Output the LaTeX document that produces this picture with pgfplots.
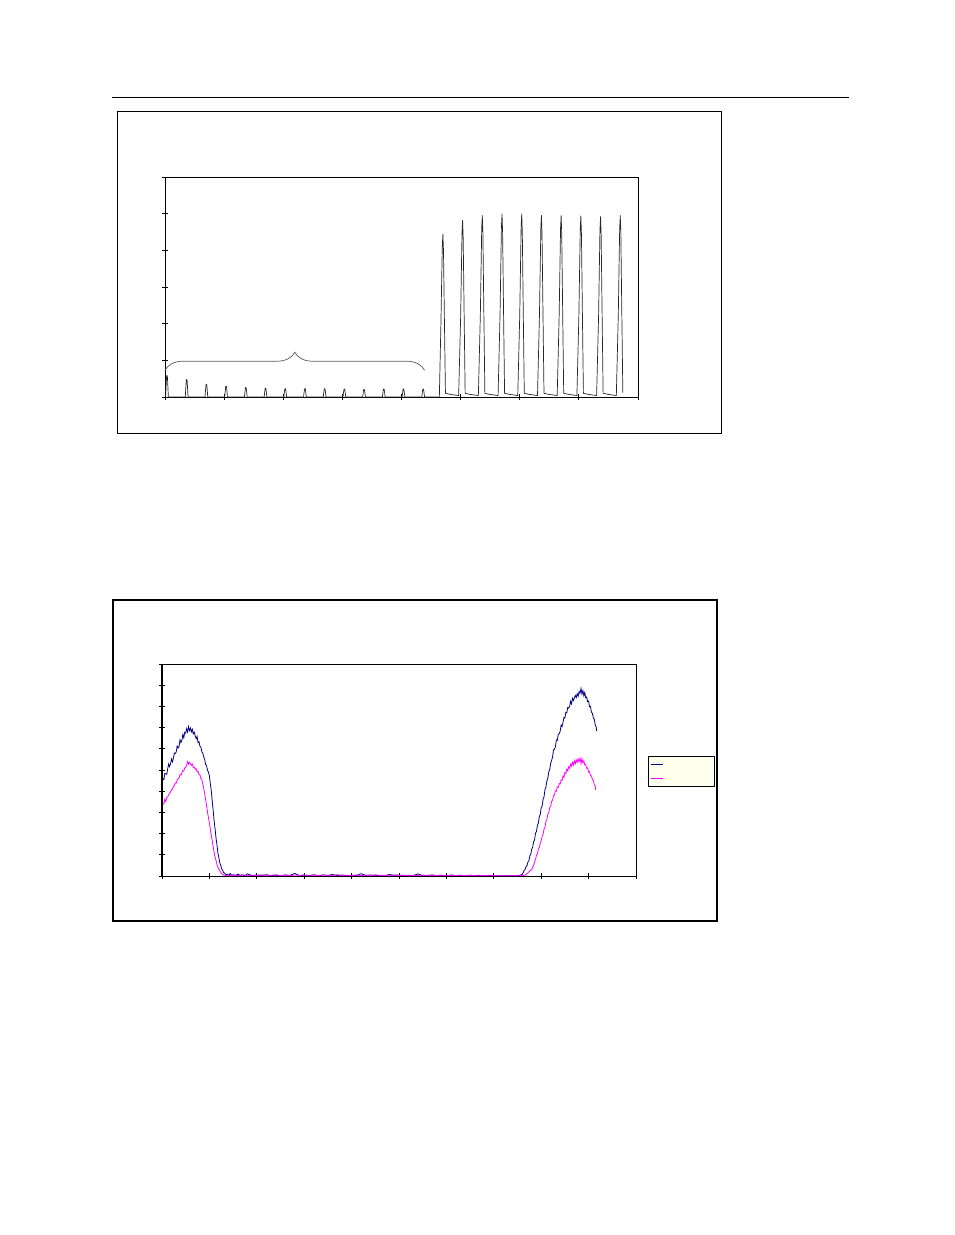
\documentclass[border=0pt]{standalone}
\usepackage{pgfplots}
\pgfplotsset{compat=1.18}
\usetikzlibrary{decorations.pathreplacing}
\definecolor{exnavy}{RGB}{0,0,128}
\definecolor{exmag}{RGB}{255,0,255}
\definecolor{legbg}{RGB}{255,255,238}

\pgfplotsset{
  plain/.style={
    scale only axis,
    anchor=south west,
    clip=false,
    xticklabels={}, yticklabels={},
    xtick pos=bottom, ytick pos=left,
    tick align=center,
    major tick length=6pt,
    axis line style={line width=0.8pt},
    tick style={black, line width=0.8pt},
  },
}

\begin{document}
\begin{tikzpicture}
\path[use as bounding box] (0,0) rectangle (954pt,-1235pt);
\draw[line width=0.9pt] (112pt,-97pt) -- (849pt,-97pt);
\draw[line width=0.9pt] (117pt,-111pt) rectangle (721pt,-433pt);
\draw[line width=1.6pt] (113pt,-600pt) rectangle (717pt,-921pt);

% --- top chart: pulse train
\begin{axis}[plain,
  at={(165pt,-397pt)}, width=473pt, height=220pt,
  xmin=0, xmax=24, ymin=0, ymax=6,
  xtick={0,3,...,24}, ytick={0,1,...,6},
]
\addplot[black!85, line width=0.7pt, line join=round] coordinates {
(0,0)(0.03,0)(0.055,0.3)(0.08,0.56)(0.1,0.59)(0.12,0.56)(0.145,0.3)(0.17,0)
(1.03,0)(1.055,0.24)(1.08,0.46)(1.1,0.48)(1.12,0.46)(1.145,0.24)(1.17,0)
(2.03,0)(2.055,0.18)(2.08,0.33)(2.1,0.35)(2.12,0.33)(2.145,0.18)(2.17,0)
(3.03,0)(3.055,0.15)(3.08,0.28)(3.1,0.30)(3.12,0.28)(3.145,0.15)(3.17,0)
(4.03,0)(4.055,0.13)(4.08,0.25)(4.1,0.26)(4.12,0.25)(4.145,0.13)(4.17,0)
(5.03,0)(5.055,0.12)(5.08,0.23)(5.1,0.24)(5.12,0.23)(5.145,0.12)(5.17,0)
(6.03,0)(6.055,0.12)(6.08,0.22)(6.1,0.23)(6.12,0.22)(6.145,0.12)(6.17,0)
(7.03,0)(7.055,0.12)(7.08,0.22)(7.1,0.23)(7.12,0.22)(7.145,0.12)(7.17,0)
(8.03,0)(8.055,0.12)(8.08,0.22)(8.1,0.23)(8.12,0.22)(8.145,0.12)(8.17,0)
(9.03,0)(9.055,0.11)(9.08,0.21)(9.1,0.22)(9.12,0.21)(9.145,0.11)(9.17,0)
(10.03,0)(10.055,0.11)(10.08,0.20)(10.1,0.21)(10.12,0.20)(10.145,0.11)(10.17,0)
(11.03,0)(11.055,0.11)(11.08,0.21)(11.1,0.22)(11.12,0.21)(11.145,0.11)(11.17,0)
(12.03,0)(12.055,0.11)(12.08,0.21)(12.1,0.22)(12.12,0.21)(12.145,0.11)(12.17,0)
(13.03,0)(13.055,0.11)(13.08,0.21)(13.1,0.22)(13.12,0.21)(13.145,0.11)(13.17,0)
(13.92,0)(14.0,2.0)(14.07,4.13)(14.1,4.44)(14.13,4.0)(14.18,2.0)(14.23,0.1)(14.5,0.07)(14.9,0.04)
(15.0,2.17)(15.07,4.48)(15.1,4.82)(15.13,4.34)(15.18,2.17)(15.23,0.1)(15.5,0.07)(15.9,0.04)
(16.0,2.23)(16.07,4.60)(16.1,4.95)(16.13,4.46)(16.18,2.23)(16.23,0.1)(16.5,0.07)(16.9,0.04)
(17.0,2.25)(17.07,4.64)(17.1,4.99)(17.13,4.49)(17.18,2.25)(17.23,0.1)(17.5,0.07)(17.9,0.04)
(18.0,2.25)(18.07,4.64)(18.1,4.99)(18.13,4.49)(18.18,2.25)(18.23,0.1)(18.5,0.07)(18.9,0.04)
(19.0,2.23)(19.07,4.60)(19.1,4.95)(19.13,4.46)(19.18,2.23)(19.23,0.1)(19.5,0.07)(19.9,0.04)
(20.0,2.23)(20.07,4.60)(20.1,4.95)(20.13,4.46)(20.18,2.23)(20.23,0.1)(20.5,0.07)(20.9,0.04)
(21.0,2.22)(21.07,4.59)(21.1,4.94)(21.13,4.45)(21.18,2.22)(21.23,0.1)(21.5,0.07)(21.9,0.04)
(22.0,2.21)(22.07,4.58)(22.1,4.92)(22.13,4.43)(22.18,2.21)(22.23,0.1)(22.5,0.07)(22.9,0.04)
(23.0,2.23)(23.07,4.60)(23.1,4.95)(23.13,4.46)(23.18,2.23)(23.23,0.12)
};
\draw[decorate, decoration={brace, amplitude=18pt}, black!65, line width=0.7pt]
  (axis cs:0,0.73) -- (axis cs:13.17,0.73);
\end{axis}

% --- bottom chart: two noisy humps
\begin{axis}[plain,
  at={(162pt,-876pt)}, width=474pt, height=212pt,
  xmin=0, xmax=10, ymin=0, ymax=10,
  xtick={0,1,...,10}, ytick={0,1,...,10},
  legend style={at={(1.0253,0.566)}, anchor=north west, fill=legbg,
    draw=black, line width=0.9pt, inner xsep=2pt, inner ysep=1pt,
    nodes={inner sep=0pt, text height=11pt, text depth=3pt}, row sep=0pt},
  legend cell align=left,
  legend image code/.code={\draw[#1, line width=1pt] (0pt,0pt) -- (12pt,0pt);},
]
\addplot[exnavy, line width=0.8pt] coordinates {
(0.00,4.40)(0.02,4.58)(0.04,4.55)(0.06,4.84)(0.08,4.82)(0.10,4.80)(0.12,5.05)(0.14,5.28)
(0.16,5.16)(0.18,5.30)(0.20,5.52)(0.22,5.38)(0.24,5.56)(0.26,5.80)(0.28,5.78)(0.30,5.85)
(0.32,6.13)(0.34,6.04)(0.36,6.12)(0.38,6.42)(0.40,6.30)(0.42,6.41)(0.44,6.68)(0.46,6.52)
(0.48,6.78)(0.50,6.74)(0.52,6.95)(0.54,6.80)(0.56,7.05)(0.58,6.86)(0.60,6.98)(0.62,6.80)
(0.64,6.92)(0.66,6.70)(0.68,6.79)(0.70,6.62)(0.72,6.48)(0.74,6.58)(0.76,6.30)(0.78,6.34)
(0.80,6.12)(0.82,6.08)(0.84,5.86)(0.86,5.80)(0.88,5.62)(0.90,5.50)(0.92,5.26)(0.94,5.22)
(0.96,4.98)(0.98,4.90)(1.00,4.72)(1.02,4.35)(1.04,4.02)(1.06,3.52)(1.08,3.08)(1.10,2.60)
(1.12,2.22)(1.14,1.78)(1.16,1.46)(1.18,1.08)(1.20,0.86)(1.22,0.62)(1.24,0.50)(1.26,0.33)
(1.28,0.27)(1.30,0.16)(1.32,0.14)(1.35,0.06)(1.38,0.09)(1.41,0.03)(1.44,0.12)(1.47,0.02)
(1.50,0.06)(1.55,0.02)(1.60,0.09)(1.65,0.03)(1.70,0.05)(1.75,0.01)(1.80,0.10)(1.90,0.02)
(2.00,0.05)(2.10,0.03)(2.20,0.06)(2.30,0.02)(2.40,0.04)(2.50,0.01)(2.60,0.05)(2.70,0.03)
(2.80,0.12)(2.90,0.02)(3.00,0.04)(3.10,0.02)(3.20,0.06)(3.30,0.01)(3.40,0.05)(3.50,0.03)
(3.60,0.07)(3.70,0.02)(3.80,0.05)(3.90,0.01)(4.00,0.04)(4.10,0.02)(4.20,0.11)(4.30,0.03)
(4.40,0.05)(4.50,0.01)(4.60,0.04)(4.70,0.02)(4.80,0.07)(4.90,0.03)(5.00,0.05)(5.10,0.01)
(5.20,0.04)(5.30,0.02)(5.40,0.10)(5.50,0.01)(5.60,0.03)(5.70,0.05)(5.80,0.02)(5.90,0.04)
(6.00,0.01)(6.10,0.05)(6.20,0.02)(6.30,0.03)(6.40,0.01)(6.50,0.04)(6.60,0.02)(6.70,0.03)
(6.80,0.01)(6.90,0.03)(7.00,0.02)(7.10,0.01)(7.20,0.02)(7.30,0.01)(7.40,0.02)(7.50,0.01)
(7.55,0.03)(7.60,0.08)(7.62,0.16)(7.64,0.27)(7.66,0.30)(7.68,0.44)(7.70,0.48)(7.72,0.66)
(7.74,0.72)(7.76,0.95)(7.78,1.02)(7.80,1.26)(7.82,1.36)(7.84,1.62)(7.86,1.70)(7.88,2.02)
(7.90,2.10)(7.92,2.38)(7.94,2.50)(7.96,2.80)(7.98,2.90)(8.00,3.22)(8.02,3.30)(8.04,3.62)
(8.06,3.74)(8.08,4.08)(8.10,4.20)(8.12,4.48)(8.14,4.62)(8.16,4.92)(8.18,5.02)(8.20,5.32)
(8.22,5.45)(8.24,5.62)(8.26,5.95)(8.28,5.98)(8.30,6.10)(8.32,6.42)(8.34,6.40)(8.36,6.68)
(8.38,6.72)(8.40,6.82)(8.42,7.12)(8.44,7.05)(8.46,7.25)(8.48,7.48)(8.50,7.45)(8.52,7.72)
(8.54,7.70)(8.56,7.95)(8.58,7.92)(8.60,8.00)(8.62,8.25)(8.64,8.12)(8.66,8.38)(8.68,8.28)
(8.70,8.40)(8.72,8.52)(8.74,8.42)(8.76,8.60)(8.78,8.48)(8.80,8.70)(8.82,8.62)(8.84,8.85)
(8.86,8.58)(8.88,8.75)(8.90,8.50)(8.92,8.66)(8.94,8.40)(8.96,8.44)(8.98,8.22)(9.00,8.25)
(9.02,7.98)(9.04,8.00)(9.06,7.72)(9.08,7.68)(9.10,7.45)(9.12,7.40)(9.14,7.12)(9.16,7.02)
(9.17,6.84)
};
\addlegendentry{\hspace*{49pt}}
\addplot[exmag, line width=0.8pt] coordinates {
(0.00,3.27)(0.02,3.42)(0.04,3.40)(0.06,3.62)(0.08,3.50)(0.10,3.70)(0.12,3.74)(0.14,3.82)
(0.16,3.90)(0.18,3.96)(0.20,4.06)(0.22,4.10)(0.24,4.22)(0.26,4.26)(0.28,4.40)(0.30,4.38)
(0.32,4.52)(0.34,4.60)(0.36,4.62)(0.38,4.78)(0.40,4.76)(0.42,4.86)(0.44,4.98)(0.46,4.96)
(0.48,5.10)(0.50,5.12)(0.52,5.22)(0.54,5.40)(0.56,5.28)(0.58,5.36)(0.60,5.30)(0.62,5.22)
(0.64,5.28)(0.66,5.12)(0.68,5.14)(0.70,5.04)(0.72,5.06)(0.74,4.92)(0.76,4.94)(0.78,4.78)
(0.80,4.78)(0.82,4.60)(0.84,4.56)(0.86,4.35)(0.88,4.15)(0.90,3.90)(0.92,3.62)(0.94,3.32)
(0.96,3.02)(0.98,2.75)(1.00,2.50)(1.02,2.20)(1.04,1.92)(1.06,1.65)(1.08,1.38)(1.10,1.12)
(1.12,0.90)(1.14,0.72)(1.16,0.55)(1.18,0.42)(1.20,0.32)(1.22,0.24)(1.24,0.17)(1.26,0.12)
(1.28,0.08)(1.31,0.05)(1.34,0.02)
(1.40,0.04)(1.45,0.01)(1.50,0.05)(1.60,0.02)(1.70,0.06)(1.80,0.01)(1.90,0.04)(2.00,0.02)
(2.10,0.05)(2.20,0.01)(2.30,0.03)(2.40,0.06)(2.50,0.02)(2.60,0.04)(2.70,0.01)(2.80,0.05)
(2.90,0.02)(3.00,0.06)(3.10,0.01)(3.20,0.04)(3.30,0.02)(3.40,0.05)(3.50,0.01)(3.60,0.03)
(3.70,0.06)(3.80,0.02)(3.90,0.04)(4.00,0.01)(4.10,0.05)(4.20,0.02)(4.30,0.04)(4.40,0.01)
(4.50,0.06)(4.60,0.02)(4.70,0.03)(4.80,0.01)(4.90,0.05)(5.00,0.02)(5.10,0.04)(5.20,0.01)
(5.30,0.03)(5.40,0.02)(5.50,0.05)(5.60,0.01)(5.70,0.03)(5.80,0.02)(5.90,0.04)(6.00,0.01)
(6.10,0.03)(6.20,0.02)(6.30,0.04)(6.40,0.01)(6.50,0.03)(6.60,0.02)(6.70,0.01)(6.80,0.03)
(6.90,0.01)(7.00,0.02)(7.10,0.01)(7.20,0.02)(7.30,0.01)(7.40,0.02)(7.50,0.01)(7.60,0.02)
(7.64,0.03)(7.68,0.08)(7.72,0.15)(7.76,0.24)(7.80,0.30)(7.82,0.42)(7.84,0.50)(7.86,0.68)
(7.88,0.78)(7.90,0.98)(7.92,1.05)(7.94,1.26)(7.96,1.35)(7.98,1.55)(8.00,1.66)(8.02,1.88)
(8.04,1.97)(8.06,2.22)(8.08,2.30)(8.10,2.58)(8.12,2.66)(8.14,2.92)(8.16,2.98)(8.18,3.24)
(8.20,3.28)(8.22,3.52)(8.24,3.58)(8.26,3.80)(8.28,3.82)(8.30,4.02)(8.32,4.00)(8.34,4.20)
(8.36,4.18)(8.38,4.36)(8.40,4.34)(8.42,4.52)(8.44,4.50)(8.46,4.72)(8.48,4.66)(8.50,4.88)
(8.52,4.84)(8.54,5.04)(8.56,4.96)(8.58,5.16)(8.60,5.08)(8.62,5.28)(8.64,5.18)(8.66,5.36)
(8.68,5.24)(8.70,5.44)(8.72,5.30)(8.74,5.48)(8.76,5.36)(8.78,5.52)(8.80,5.40)(8.82,5.56)
(8.84,5.30)(8.86,5.54)(8.88,5.34)(8.90,5.42)(8.92,5.24)(8.94,5.26)(8.96,5.08)(8.98,5.10)
(9.00,4.90)(9.02,4.92)(9.04,4.74)(9.06,4.72)(9.08,4.56)(9.10,4.50)(9.12,4.30)(9.14,4.24)
(9.15,4.06)
};
\addlegendentry{\hspace*{49pt}}
\draw[line width=1.6pt] (rel axis cs:0,0) -- (rel axis cs:0,1);
\end{axis}
\end{tikzpicture}
\end{document}
